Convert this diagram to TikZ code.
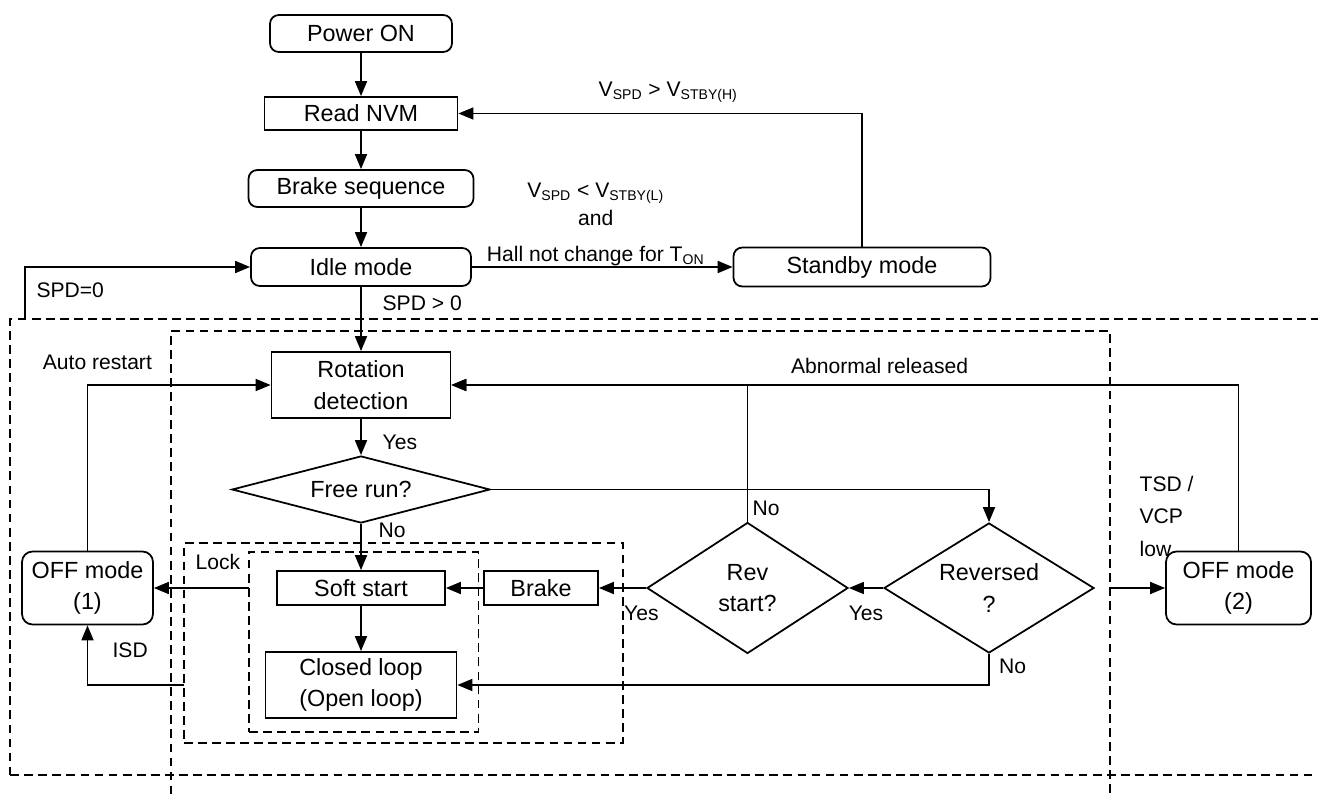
\documentclass[tikz,border=0pt]{standalone}
\usepackage{fontspec}
\setmainfont{Liberation Sans}
\usepackage{tikz}
\usetikzlibrary{shapes,arrows.meta}
\tikzset{>={Triangle[length=3mm,width=2.4mm]}}
\tikzstyle{block} = [rectangle, draw, text centered, inner sep=2pt]
\tikzstyle{mode} = [rectangle, draw, text centered, rounded corners=5pt, inner sep=2pt]
\tikzstyle{decision} = [diamond, draw, text centered, inner sep=0pt]
\tikzstyle{zone} = [rectangle, draw, dash pattern=on 5pt off 3pt, inner sep=0pt,
    outer sep=0pt, line width=0.9pt]
\tikzstyle{line} = [draw, ->]
\tikzstyle{cond} = [font=\fontsize{12}{18.5}\selectfont, inner sep=1pt]

\begin{document}
\begin{tikzpicture}[node distance=1.6cm, line width=1pt, align=center,
    every node/.style={font=\fontsize{13.3}{18}\selectfont}]
    \useasboundingbox (0,0) rectangle (26.36,-15.88);

    % main column
    \node[mode, minimum width=3.64cm, minimum height=0.74cm] (power) at (7.22,-0.67) {Power ON};
    \node[block, below of=power, minimum width=3.86cm, minimum height=0.66cm] (nvm) {Read NVM};
    \node[mode, below of=nvm, node distance=1.5cm, minimum width=4.5cm, minimum height=0.74cm] (brakeseq) {Brake sequence};
    \node[mode, below of=brakeseq, node distance=1.57cm, minimum width=4.4cm, minimum height=0.76cm] (idle) {Idle mode};
    \node[mode, right of=idle, node distance=10.02cm, minimum width=5.14cm, minimum height=0.78cm] (standby) {Standby mode};
    \node[block, below of=idle, node distance=2.36cm, minimum width=3.58cm, minimum height=1.32cm] (rot) {Rotation\\detection};
    \node[decision, below of=rot, node distance=2.09cm, minimum width=5.16cm, minimum height=1.34cm, aspect=3.85] (free) {Free run?};
    \node[block, below of=free, node distance=1.97cm, minimum width=3.36cm, minimum height=0.68cm] (soft) {Soft start};
    \node[block, below of=soft, node distance=1.94cm, minimum width=3.82cm, minimum height=1.32cm] (closed) {Closed loop\\(Open loop)};

    % right side
    \node[block, right of=soft, node distance=3.6cm, minimum width=2.28cm, minimum height=0.68cm] (brake) {Brake};
    \node[decision, right of=brake, node distance=4.13cm, minimum width=4.02cm, minimum height=2.62cm, aspect=1.53] (revstart) {Rev\\start?};
    \node[decision, right of=revstart, node distance=4.83cm, minimum width=4.2cm, minimum height=2.6cm, aspect=1.615] (reversed) {Reversed\\?};
    \node[mode, right of=reversed, node distance=4.99cm, minimum width=2.9cm, minimum height=1.46cm, rounded corners=6pt] (offtwo) {OFF mode\\(2)};
    \node[mode, left of=soft, node distance=5.47cm, minimum width=2.62cm, minimum height=1.46cm, rounded corners=6pt] (offone) {OFF mode\\(1)};

    % dashed regions
    \node[zone, minimum width=26.39cm, minimum height=9.12cm] (outer) at (13.4,-10.94) {};
    \node[zone, minimum width=18.78cm, minimum height=9.58cm] (rotzone) at (12.81,-11.41) {};
    \node[zone, minimum width=8.78cm, minimum height=4.0cm] (lockbox) at (8.07,-12.86) {};
    \node[zone, minimum width=4.59cm, minimum height=3.6cm] (innerbox) at (7.275,-12.84) {};
    \node[cond, anchor=north west] (lock) at ([xshift=0.18cm, yshift=-0.17cm]lockbox.north west) {Lock};
    \coordinate (spdzero) at ([xshift=0.3cm]outer.north west);

    \path [line] (power) -- (nvm);
    \path [line] (nvm) -- (brakeseq);
    \path [line] (brakeseq) -- (idle);
    \path [line] (idle) -- node[cond, above=0pt, inner sep=0pt, xshift=-0.13cm, font=\fontsize{12}{15}\selectfont]
        {V\textsubscript{SPD} < V\textsubscript{STBY(L)}\\[1pt] and\\[5.5pt] Hall not change for T\textsubscript{ON}} (standby);
    \path [line] (standby) |- node[cond, pos=0.74, above=0.17cm] {V\textsubscript{SPD} > V\textsubscript{STBY(H)}} (nvm);
    \path [line] (spdzero) |- node[cond, pos=0.6, below=0.26cm] {SPD=0} (idle);
    \path [line] (idle) -- node[cond, pos=0.26, right=0.38cm] {SPD > 0} (rot);
    \path [line] (rot) -- node[cond, pos=0.66, right=0.38cm] {Yes} (free);
    \path [line] (free) -- node[cond, pos=0.15, right=0.3cm] {No} (soft);
    \path [line] (free) -| (reversed);
    \path [line] (reversed) -- node[cond, below=0.3cm] {Yes} (revstart);
    \path [line] (revstart) -- node[cond, pos=0.1, below=0.3cm] {Yes} (brake);
    \path [line] (brake) -- (soft);
    \path [line] (soft) -- (closed);
    \path [line] (reversed) |- node[cond, pos=0.2, right=0.15cm] {No} (closed);
    \path [line] (revstart) |- node[cond, pos=0.047, right=0.05cm] {No} (rot);
    \path [line] (offtwo) |- node[cond, pos=0.728, above=0.18cm] {Abnormal released} (rot);
    \path [line] (offone) |- node[cond, pos=0.527, above=0.25cm] {Auto restart} (rot);
    \path [line] (innerbox.west |- soft) -- (offone);
    \path [line] (lockbox.west |- closed) -| node[cond, pos=0.795, right=0.45cm] {ISD} (offone);
    \path [line] (rotzone.east |- offtwo) -- node[cond, pos=0.49, anchor=south west, yshift=0.58cm, align=left]
        {TSD /\\VCP\\low} (offtwo);
\end{tikzpicture}
\end{document}
